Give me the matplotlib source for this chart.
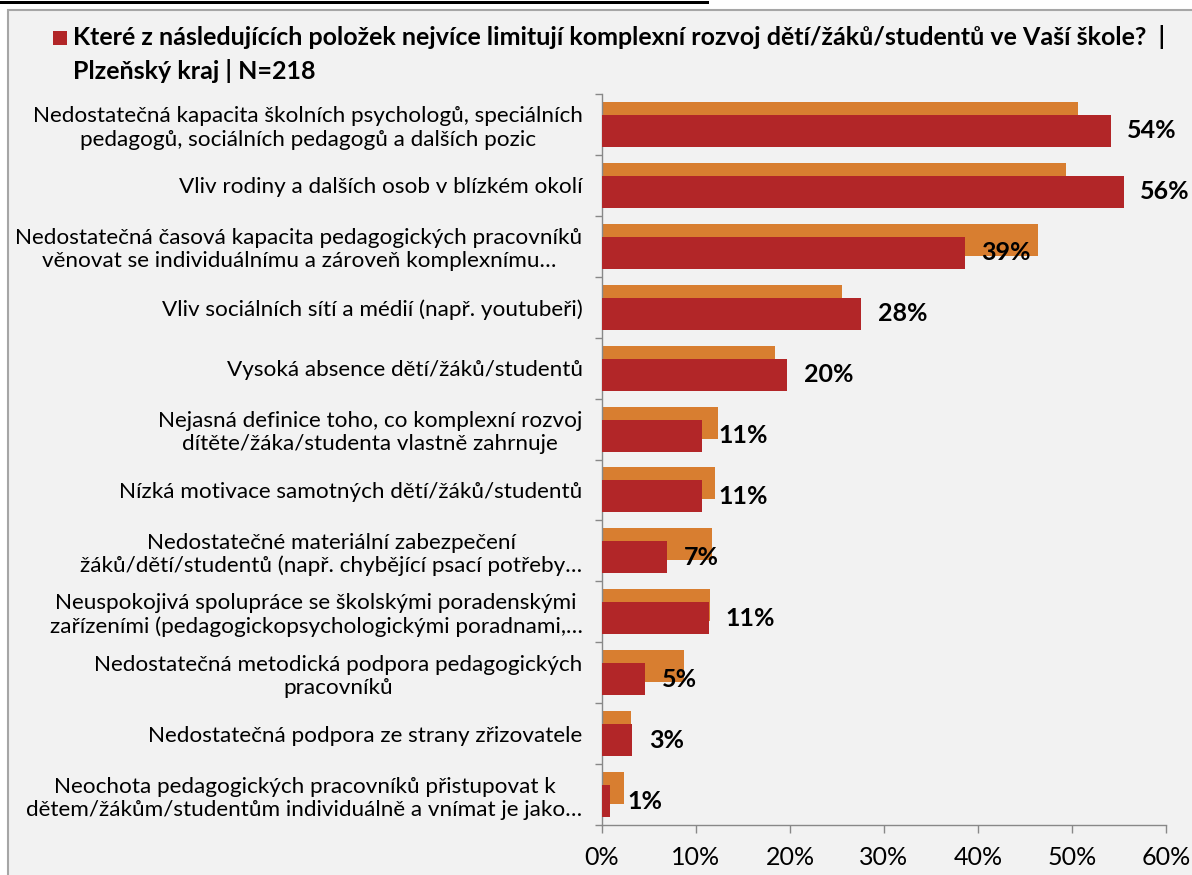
import matplotlib
matplotlib.use("Agg")
import matplotlib.pyplot as plt
from matplotlib.patches import Rectangle
import numpy as np

plt.rcParams['font.family'] = ['Lato', 'DejaVu Sans']

categories = [
    "Nedostatečná kapacita školních psychologů, speciálních\npedagogů, sociálních pedagogů a dalších pozic",
    "Vliv rodiny a dalších osob v blízkém okolí",
    "Nedostatečná časová kapacita pedagogických pracovníků\nvěnovat se individuálnímu a zároveň komplexnímu…",
    "Vliv sociálních sítí a médií (např. youtubeři)",
    "Vysoká absence dětí/žáků/studentů",
    "Nejasná definice toho, co komplexní rozvoj\ndítěte/žáka/studenta vlastně zahrnuje",
    "Nízká motivace samotných dětí/žáků/studentů",
    "Nedostatečné materiální zabezpečení\nžáků/dětí/studentů (např. chybějící psací potřeby…",
    "Neuspokojivá spolupráce se školskými poradenskými\nzařízeními (pedagogickopsychologickými poradnami,…",
    "Nedostatečná metodická podpora pedagogických\npracovníků",
    "Nedostatečná podpora ze strany zřizovatele",
    "Neochota pedagogických pracovníků přistupovat k\ndětem/žákům/studentům individuálně a vnímat je jako…",
]
plzen = [54.1, 55.5, 38.6, 27.6, 19.7, 10.6, 10.6, 6.9, 11.4, 4.6, 3.2, 0.9]
overall = [50.6, 49.4, 46.4, 25.5, 18.4, 12.3, 12.0, 11.75, 11.5, 8.7, 3.1, 2.3]
value_labels = ["54%", "56%", "39%", "28%", "20%", "11%", "11%", "7%", "11%", "5%", "3%", "1%"]
xticks = [0, 10, 20, 30, 40, 50, 60]
xtick_labels = ["0%", "10%", "20%", "30%", "40%", "50%", "60%"]

title = ("Které z následujících položek nejvíce limitují komplexní rozvoj dětí/žáků/studentů ve Vaší škole?  |\n"
         "Plzeňský kraj | N=218")

RED = '#B22628'
ORANGE = '#D87E30'
GRAY = '#888888'
W, H = 1192, 875

fig = plt.figure(figsize=(W / 100, H / 100), dpi=100)
fig.patch.set_facecolor('white')

# framed grey panel
fig.patches.append(Rectangle((8 / W, -0.01), 1.0, (H - 10) / H + 0.01, transform=fig.transFigure,
                             facecolor='#F2F2F2', edgecolor='#A6A6A6', linewidth=1.5, zorder=-2))
# cut-off line at the very top
fig.patches.append(Rectangle((0, 1 - 4 / H), 709 / W, 2.5 / H, transform=fig.transFigure,
                             facecolor='black', edgecolor='none', zorder=-1))

# title with red square
fig.patches.append(Rectangle((53 / W, 1 - 45 / H), 14 / W, 14 / H, transform=fig.transFigure,
                             facecolor=RED, edgecolor='none', zorder=-1))
fig.text(73 / W, 1 - 25 / H, title, ha='left', va='top', fontsize=18, fontweight='bold',
         linespacing=1.5, color='black')

ax = fig.add_axes([602 / W, 1 - 825 / H, (1166 - 602) / W, (825 - 94) / H])
ax.set_facecolor('none')
ax.set_zorder(2)

y = np.arange(len(categories))
off = 0.107
h = 0.525
ax.barh(y - off, overall, height=h, color=ORANGE, zorder=2)
ax.barh(y + off, plzen, height=h, color=RED, zorder=3)

for yi, v, lab in zip(y, plzen, value_labels):
    ax.annotate(lab, (v, yi + off), xytext=(12, 0), textcoords='offset points',
                ha='left', va='center', fontsize=18, fontweight='bold', color='black', zorder=4)

ax.set_xlim(0, 60)
ax.set_ylim(len(categories) - 0.5, -0.5)
ax.set_xticks(xticks)
ax.set_xticklabels(xtick_labels, fontsize=18)
ax.set_yticks(y)
ax.set_yticklabels(categories, fontsize=16.2, multialignment='center', linespacing=1.2)
for t in ax.get_yticklabels():
    t.set_y(t.get_position()[1])
ax.set_yticks(np.arange(-0.5, len(categories), 1.0), minor=True)
ax.tick_params(axis='y', which='major', length=0, pad=14)
ax.tick_params(axis='y', which='minor', length=5, color=GRAY, width=1, direction='out')
ax.tick_params(axis='x', which='major', length=6, color=GRAY, width=1, pad=9)

for s in ['top', 'right']:
    ax.spines[s].set_visible(False)
for s in ['left', 'bottom']:
    ax.spines[s].set_color(GRAY)
    ax.spines[s].set_linewidth(1)

fig.savefig('out.png', dpi=100, facecolor=fig.get_facecolor())
